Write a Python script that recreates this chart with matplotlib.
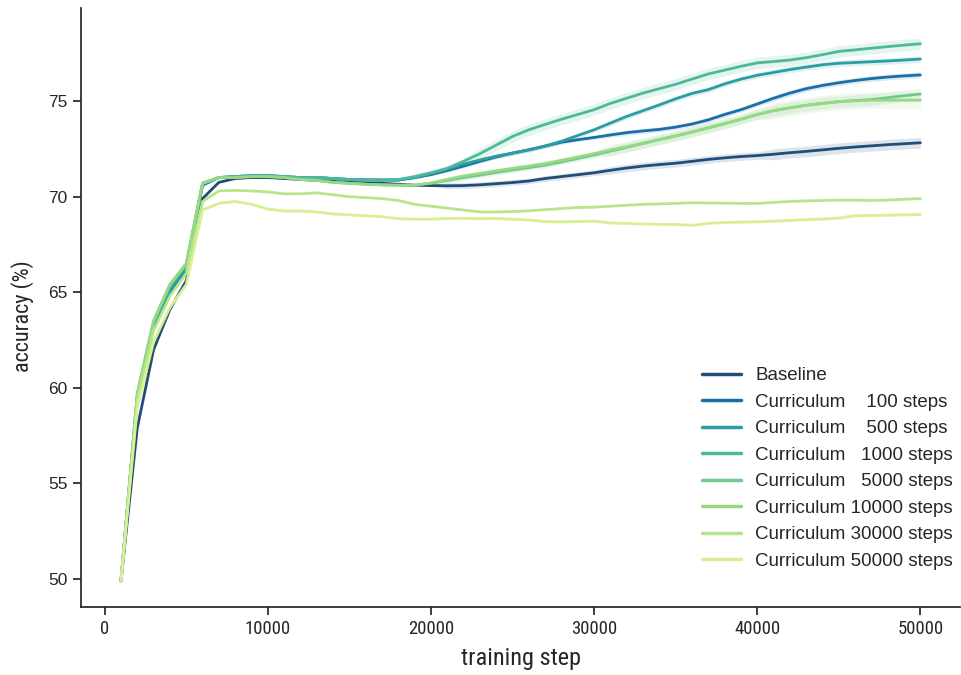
import matplotlib
matplotlib.use("Agg")
import matplotlib.pyplot as plt
import numpy as np

steps = list(range(1000, 51000, 1000))

labels = ["Baseline",
          "Curriculum    100 steps",
          "Curriculum    500 steps",
          "Curriculum   1000 steps",
          "Curriculum   5000 steps",
          "Curriculum 10000 steps",
          "Curriculum 30000 steps",
          "Curriculum 50000 steps"]

colors = ["#1f4e79", "#1b6fa6", "#2b9ea3", "#4db99a",
          "#72c78f", "#96d982", "#b8e58c", "#d8ef93"]

baseline = [49.9, 57.9, 62.0, 64.1, 65.6, 69.9, 70.75, 70.95, 71.0, 71.0,
            70.95, 70.9, 70.85, 70.8, 70.75, 70.72, 70.7, 70.65, 70.6, 70.58,
            70.57, 70.58, 70.62, 70.68, 70.74, 70.82, 70.95, 71.05, 71.15, 71.25,
            71.38, 71.5, 71.6, 71.68, 71.75, 71.85, 71.95, 72.03, 72.1, 72.15,
            72.22, 72.3, 72.37, 72.45, 72.53, 72.6, 72.66, 72.72, 72.77, 72.82]

cur100 = [49.9, 59.5, 63.2, 65.0, 66.2, 70.6, 71.0, 71.05, 71.1, 71.1,
          71.05, 71.0, 71.0, 70.95, 70.9, 70.88, 70.87, 70.87, 71.0, 71.15,
          71.37, 71.6, 71.85, 72.08, 72.28, 72.45, 72.65, 72.85, 72.98, 73.1,
          73.23, 73.35, 73.44, 73.52, 73.64, 73.8, 74.02, 74.3, 74.55, 74.85,
          75.15, 75.42, 75.65, 75.82, 75.96, 76.08, 76.18, 76.26, 76.32, 76.37]

cur500 = [49.9, 59.5, 63.3, 65.1, 66.3, 70.65, 71.0, 71.05, 71.1, 71.1,
          71.05, 71.0, 71.0, 70.95, 70.9, 70.88, 70.87, 70.87, 71.0, 71.2,
          71.45, 71.7, 71.92, 72.12, 72.28, 72.45, 72.65, 72.9, 73.2, 73.5,
          73.85, 74.2, 74.5, 74.8, 75.12, 75.4, 75.6, 75.9, 76.15, 76.35,
          76.5, 76.65, 76.78, 76.9, 76.98, 77.02, 77.06, 77.1, 77.15, 77.2]

cur1000 = [49.9, 59.6, 63.4, 65.3, 66.4, 70.7, 71.0, 71.05, 71.1, 71.1,
           71.05, 71.0, 71.0, 70.95, 70.9, 70.88, 70.87, 70.9, 71.05, 71.25,
           71.48, 71.85, 72.25, 72.7, 73.15, 73.5, 73.78, 74.05, 74.3, 74.55,
           74.88, 75.15, 75.42, 75.65, 75.88, 76.15, 76.42, 76.62, 76.82, 77.0,
           77.07, 77.15, 77.27, 77.43, 77.6, 77.68, 77.77, 77.85, 77.93, 78.0]

cur5000 = [49.9, 59.7, 63.5, 65.4, 66.5, 70.7, 71.0, 71.0, 71.05, 71.05,
           71.0, 70.9, 70.85, 70.75, 70.7, 70.65, 70.62, 70.6, 70.6, 70.7,
           70.85, 71.0, 71.13, 71.27, 71.4, 71.52, 71.65, 71.82, 72.0, 72.18,
           72.38, 72.58, 72.78, 72.98, 73.18, 73.38, 73.6, 73.82, 74.05, 74.3,
           74.5, 74.65, 74.78, 74.88, 74.97, 75.03, 75.08, 75.18, 75.28, 75.37]

cur10000 = [49.9, 59.7, 63.5, 65.4, 66.5, 70.7, 71.0, 71.0, 71.05, 71.05,
            71.0, 70.9, 70.85, 70.75, 70.7, 70.65, 70.62, 70.6, 70.6, 70.72,
            70.9, 71.08, 71.21, 71.35, 71.48, 71.6, 71.73, 71.9, 72.07, 72.25,
            72.44, 72.62, 72.8, 72.99, 73.18, 73.38, 73.6, 73.82, 74.05, 74.3,
            74.5, 74.65, 74.78, 74.88, 74.97, 75.02, 75.05, 75.05, 75.05, 75.05]

cur30000 = [49.9, 59.3, 63.0, 64.8, 66.0, 69.75, 70.3, 70.33, 70.3, 70.25,
            70.15, 70.15, 70.2, 70.1, 70.0, 69.95, 69.9, 69.8, 69.6, 69.5,
            69.4, 69.3, 69.2, 69.2, 69.22, 69.26, 69.32, 69.38, 69.43, 69.45,
            69.5, 69.55, 69.6, 69.62, 69.65, 69.68, 69.67, 69.66, 69.65, 69.65,
            69.7, 69.75, 69.78, 69.8, 69.82, 69.82, 69.8, 69.82, 69.86, 69.9]

cur50000 = [49.9, 59.0, 62.4, 64.2, 65.4, 69.3, 69.65, 69.75, 69.6, 69.35,
            69.25, 69.25, 69.2, 69.1, 69.05, 69.0, 68.95, 68.85, 68.82, 68.82,
            68.86, 68.87, 68.85, 68.86, 68.82, 68.78, 68.7, 68.68, 68.7, 68.72,
            68.62, 68.6, 68.57, 68.55, 68.55, 68.5, 68.6, 68.65, 68.67, 68.68,
            68.72, 68.76, 68.8, 68.83, 68.88, 69.0, 69.02, 69.03, 69.05, 69.07]

# half-widths of the shaded confidence bands
ci_baseline = [0.02] * 20 + [0.15] * 10 + [0.2] * 10 + [0.28] * 10
ci_100 = [0.02] * 20 + [0.1] * 10 + [0.13] * 10 + [0.15] * 10
ci_500 = [0.02] * 20 + [0.12] * 10 + [0.15] * 10 + [0.17] * 10
ci_1000 = [0.02] * 18 + [0.15] * 4 + [0.3] * 28
ci_5000 = [0.02] * 20 + [0.15] * 10 + [0.25] * 10 + [0.3] * 10
ci_10000 = [0.02] * 20 + [0.15] * 10 + [0.28] * 10 + [0.42] * 10
ci_30000 = [0.02] * 50
ci_50000 = [0.02] * 40 + [0.06] * 10

series = [baseline, cur100, cur500, cur1000, cur5000, cur10000, cur30000, cur50000]
cis = [ci_baseline, ci_100, ci_500, ci_1000, ci_5000, ci_10000, ci_30000, ci_50000]

COND = ["Roboto Condensed", "Roboto", "DejaVu Sans"]
ARIAL = ["Liberation Sans", "DejaVu Sans"]
INK = "#262626"

fig = plt.figure(figsize=(9.61, 6.75), dpi=100)
ax = fig.add_axes([0.0843, 0.1007, 0.915, 0.8874])

x = np.array(steps)
for y, ci, c, lab in zip(series, cis, colors, labels):
    y = np.array(y)
    ci = np.array(ci)
    ax.fill_between(x, y - ci, y + ci, color=c, alpha=0.15, linewidth=0)
    ax.plot(x, y, color=c, lw=2.0, label=lab, solid_capstyle="round")

ax.set_xlim(-1450, 52450)
ax.set_ylim(48.53, 79.87)
ax.set_xticks([0, 10000, 20000, 30000, 40000, 50000])
ax.set_yticks([50, 55, 60, 65, 70, 75])

for s in ["top", "right"]:
    ax.spines[s].set_visible(False)
for s in ["left", "bottom"]:
    ax.spines[s].set_linewidth(1.25)
    ax.spines[s].set_color(INK)

ax.tick_params(axis="both", direction="out", length=6, width=1.25,
               color=INK, labelcolor=INK)
for t in ax.get_yticklabels():
    t.set_fontfamily(ARIAL)
    t.set_fontsize(12.5)
for t in ax.get_xticklabels():
    t.set_fontfamily(COND)
    t.set_fontsize(13.5)

ax.set_xlabel("training step", labelpad=6, family=COND, size=17.5, color=INK)
ax.set_ylabel("accuracy (%)", family=COND, size=16, color=INK)
ax.yaxis.set_label_coords(-0.054, 0.485)

leg = ax.legend(loc="lower right", bbox_to_anchor=(1.0, 0.05),
                borderaxespad=0, frameon=False, handlelength=2.1,
                handletextpad=0.75, labelspacing=0.5,
                prop={"family": ARIAL, "size": 13.5})
for line in leg.get_lines():
    line.set_linewidth(2.5)
for t in leg.get_texts():
    t.set_color(INK)

fig.savefig("out.png", dpi=100)
